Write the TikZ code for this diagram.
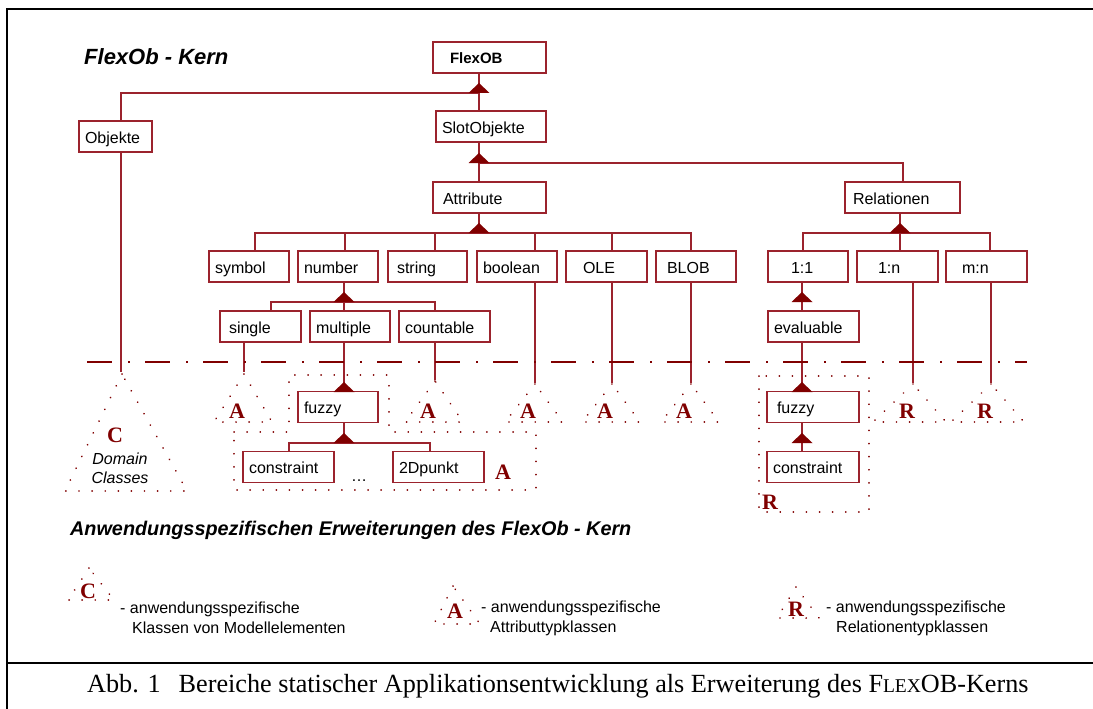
\documentclass[tikz,border=0pt]{standalone}
\usepackage{fontspec}
\setmainfont{Liberation Sans}
\newfontfamily\timesfont{Liberation Serif}
\usetikzlibrary{calc}
\definecolor{dred}{RGB}{155,35,45}
\definecolor{tred}{RGB}{128,0,0}
\tikzset{
  cls/.style={draw=dred, line width=1.3pt, fill=white, minimum height=31pt,
    inner xsep=6pt, inner ysep=0pt, text width=#1, align=left,
    text height=15pt, text depth=2pt, font=\fontsize{16}{18}\selectfont},
  link/.style={dred, line width=1.3pt},
  ext/.style={tred, line width=1.8pt, dash pattern=on 0.1pt off 13pt, line cap=round},
  sep/.style={tred, line width=1.3pt, dash pattern=on 25pt off 16pt on 1.5pt off 15.5pt},
  lett/.style={text=tred, font=\timesfont\bfseries\fontsize{22}{22}\selectfont, inner sep=0pt},
  legtext/.style={anchor=west, align=left, inner sep=0pt, font=\fontsize{16}{20}\selectfont},
  frame/.style={black, line width=2.5pt},
}
\newcommand\gen[1]{\fill[tred] ($(#1)+(-10.5,0)$) -- ($(#1)+(10.5,0)$) -- ($(#1)+(0,-10)$) -- cycle;}
\begin{document}
\begin{tikzpicture}[x=1pt,y=-1pt]
  \useasboundingbox (0,0) rectangle (1093,709);
  \draw[frame] (7,709) -- (7,9) -- (1093,9);
  \draw[frame] (7,663) -- (1093,663);

  \node[font=\bfseries\itshape\fontsize{22}{25}\selectfont, anchor=base west, inner sep=0pt] (kern) at (84,65) {FlexOb - Kern};

  \node[cls=101] (flex) at (489.5,57.5) {\hspace*{11pt}\fontsize{15}{18}\selectfont\bfseries FlexOB};
  \node[cls=61] (obj) at (115.5,136.5) {Objekte};
  \node[cls=98] (slot) at (491,126.5) {SlotObjekte};
  \node[cls=101] (attr) at (489.5,197.5) {\hspace*{4pt}Attribute};
  \node[cls=103] (rel) at (902.5,197.5) {\hspace*{2pt}Relationen};

  \node[cls=68] (symbol) at (249,266.5) {symbol};
  \node[cls=68] (number) at (338,266.5) {number};
  \node[cls=67] (string) at (427.5,266.5) {\hspace*{3pt}string};
  \node[cls=68] (boolean) at (517,266.5) {boolean};
  \node[cls=69] (ole) at (606.5,266.5) {\hspace*{11pt}OLE};
  \node[cls=68] (blob) at (696,266.5) {\hspace*{5pt}BLOB};
  \node[cls=68] (one) at (808,266.5) {\hspace*{17pt}1:1};
  \node[cls=69] (onen) at (897.5,266.5) {\hspace*{15pt}1:n};
  \node[cls=69] (mn) at (986.5,266.5) {\hspace*{10pt}m:n};

  \node[cls=69] (single) at (260.5,326.5) {\hspace*{3pt}single};
  \node[cls=68] (multiple) at (350,326.5) {multiple};
  \node[cls=79] (countable) at (444.5,326.5) {countable};
  \node[cls=79] (eval) at (813.5,326.5) {evaluable};

  \node[cls=68] (fuzzyL) at (338,407) {fuzzy};
  \node[cls=79] (conL) at (288.5,467) {constraint};
  \node[cls=79] (punkt) at (438.5,467) {2Dpunkt};
  \node[font=\fontsize{16}{18}\selectfont, anchor=base] (dots) at (359,481) {\dots};
  \node[cls=80] (fuzzyR) at (813,407) {\hspace*{4pt}fuzzy};
  \node[cls=80] (conR) at (813,467) {constraint};

  \coordinate (jFlex) at (479,93);
  \coordinate (jSlot) at (479,163);
  \coordinate (jAttr) at (479,233);
  \coordinate (jRel) at (900,233);
  \coordinate (jNum) at (344,302);
  \coordinate (jOne) at (802,302);
  \coordinate (jMul) at (344,392);
  \coordinate (jFuz) at (344,443);
  \coordinate (jEval) at (802,392);
  \coordinate (jFuzR) at (802,443);

  \draw[link] (flex.south -| jFlex) -- (jFlex);
  \draw[link] (obj.north -| 121,0) |- (jFlex);
  \draw[link] (slot.north -| jFlex) -- (jFlex);
  \draw[link] (slot.south -| jSlot) -- (jSlot);
  \draw[link] (attr.north -| jSlot) -- (jSlot);
  \draw[link] (rel.north -| 903,0) |- (jSlot);
  \draw[link] (attr.south -| jAttr) -- (jAttr);
  \foreach \n/\x in {symbol/255,number/345,string/435,boolean/535,ole/612,blob/691}
    \draw[link] (\n.north -| \x,0) |- (jAttr);
  \draw[link] (rel.south -| jRel) -- (jRel);
  \foreach \n/\x in {one/803,onen/900,mn/990}
    \draw[link] (\n.north -| \x,0) |- (jRel);
  \draw[link] (number.south -| jNum) -- (jNum);
  \foreach \n/\x in {single/271,multiple/344,countable/435}
    \draw[link] (\n.north -| \x,0) |- (jNum);
  \draw[link] (one.south -| jOne) -- (jOne);
  \draw[link] (eval.north -| jOne) -- (jOne);
  \draw[link] (multiple.south -| jMul) -- (jMul);
  \draw[link] (fuzzyL.south -| jFuz) -- (jFuz);
  \draw[link] (conL.north -| 289,0) |- (jFuz);
  \draw[link] (punkt.north -| 430,0) |- (jFuz);
  \draw[link] (eval.south -| jEval) -- (jEval);
  \draw[link] (fuzzyR.south -| jFuzR) -- (jFuzR);
  \draw[link] (conR.north -| jFuzR) -- (jFuzR);
  \foreach \j in {jFlex,jSlot,jAttr,jRel,jNum,jOne,jMul,jFuz,jEval,jFuzR} {\gen{\j}}

  \coordinate (eObj) at (121,372);
  \coordinate (eSingle) at (244,372);
  \coordinate (eCount) at (435,380);
  \coordinate (eBool) at (535,383);
  \coordinate (eOle) at (612,383);
  \coordinate (eBlob) at (691,383);
  \coordinate (eOnen) at (913,383);
  \coordinate (eMn) at (991,383);
  \draw[link] (obj.south -| eObj) -- (eObj);
  \draw[link] (single.south -| eSingle) -- (eSingle);
  \draw[link] (countable.south -| eCount) -- (eCount);
  \draw[link] (boolean.south -| eBool) -- (eBool);
  \draw[link] (ole.south -| eOle) -- (eOle);
  \draw[link] (blob.south -| eBlob) -- (eBlob);
  \draw[link] (onen.south -| eOnen) -- (eOnen);
  \draw[link] (mn.south -| eMn) -- (eMn);

  \draw[sep] (87,362) -- (1027,362);

  \draw[ext] (122,374) -- (65,491) -- (187,491) -- cycle;
  \node[lett] (cDom) at (115,435) {C};
  \node[font=\itshape\fontsize{16}{19}\selectfont, align=center, inner sep=0pt] (dom) at (120,468) {Domain\\Classes};

  \foreach \x/\y in {244/374,435/381,535/384,612/384,691/384} {
    \draw[ext] (\x,\y) -- (\x-30,422) -- (\x+28,422) -- cycle;
    \node[lett] (a\x) at (\x-7,411) {A};
  }
  \draw[ext] (234,432) -- (289,432) -- (289,375) -- (389,375) -- (389,432)
    -- (536,432) -- (536,490) -- (234,490) -- cycle;
  \node[lett] (aFuz) at (503,472) {A};

  \foreach \x in {913,991} {
    \draw[ext] (\x,384) -- (\x-40,422) -- (\x+33,422) -- cycle;
    \node[lett] (r\x) at (\x-6,411) {R};
  }
  \draw[ext] (759,376) rectangle (869,512);
  \node[lett] (rFuz) at (770,502) {R};

  \node[font=\bfseries\itshape\fontsize{19.8}{22}\selectfont, anchor=base west, inner sep=0pt] (anw) at (70,535) {Anwendungsspezifischen Erweiterungen des FlexOb - Kern};

  \draw[ext] (89,568) -- (68,600) -- (114,600) -- cycle;
  \node[lett] (legC) at (88,591) {C};
  \node[legtext] (txtC) at (120,618) {- anwendungsspezifische\\\hspace*{12pt}Klassen von Modellelementen};
  \draw[ext] (453,586) -- (434,624) -- (480,624) -- cycle;
  \node[lett] (legA) at (455,611) {A};
  \node[legtext] (txtA) at (481,618) {- anwendungsspezifische\\\hspace*{9pt}Attributtypklassen};
  \draw[ext] (796,587) -- (777,618) -- (819,618) -- cycle;
  \node[lett] (legR) at (796,609) {R};
  \node[legtext] (txtR) at (826,618) {- anwendungsspezifische\\\hspace*{10pt}Relationentypklassen};

  \node[font=\timesfont\fontsize{26.2}{30}\selectfont, anchor=west, inner sep=0pt] (cap) at (87,686)
    {Abb. 1\hspace{18pt}Bereiche statischer Applikationsentwicklung als Erweiterung des F{\fontsize{19.5}{22}\selectfont LEX}OB-Kerns};
\end{tikzpicture}
\end{document}
